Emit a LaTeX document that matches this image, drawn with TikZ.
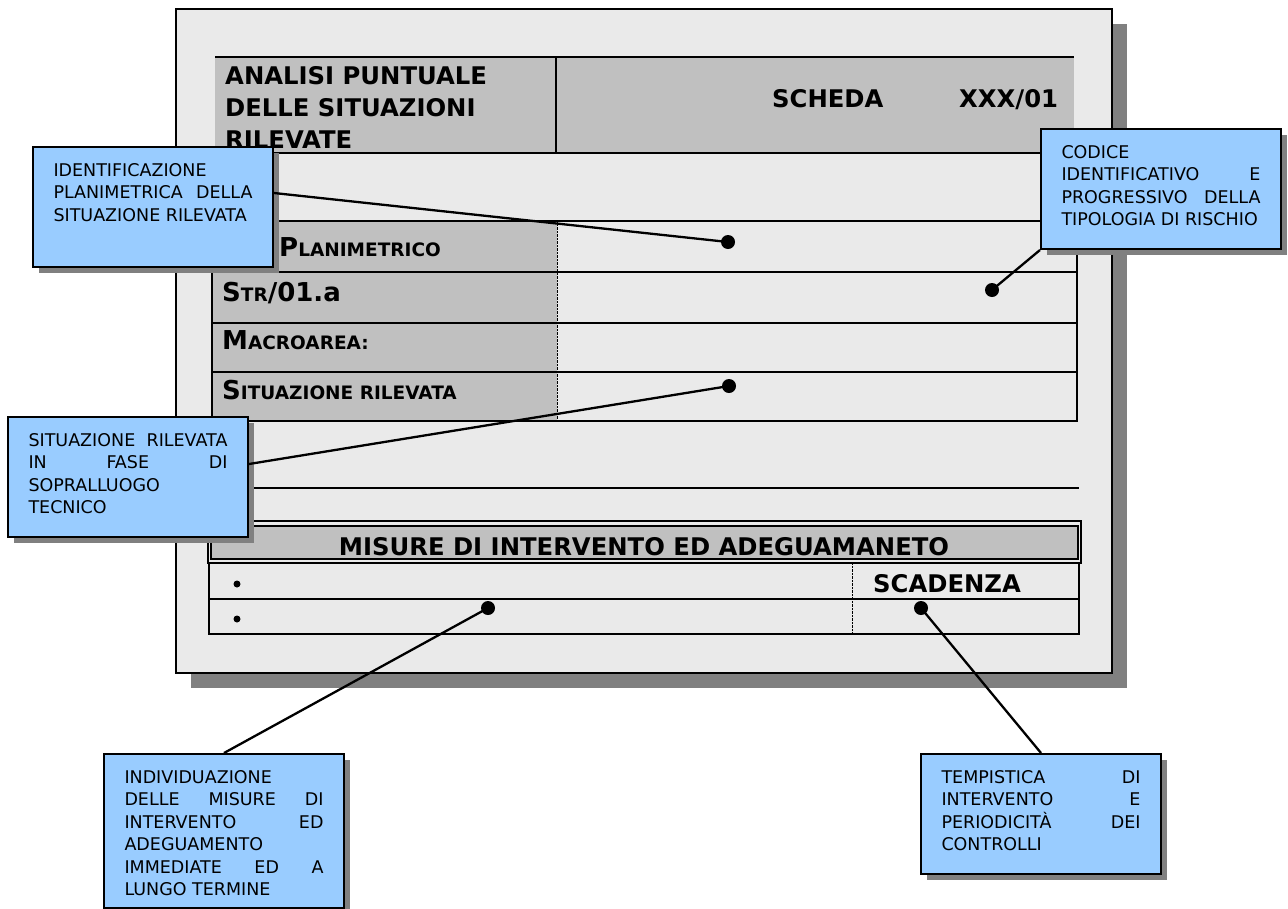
\documentclass[tikz,border=0pt]{standalone}
\usepackage{fontspec}
\setmainfont{DejaVu Sans}
\usetikzlibrary{positioning}

\definecolor{panel}{HTML}{EAEAEA}
\definecolor{cellgray}{HTML}{C0C0C0}
\definecolor{shadowgray}{HTML}{808080}
\definecolor{notefill}{HTML}{99CCFF}

\newcommand\headfont{\fontsize{24.3}{32}\selectfont\bfseries}
\newcommand\capsc[2]{{\fontsize{26}{26}\selectfont#1}{\fontsize{18.5}{18.5}\selectfont#2}}
\newcommand\notetext[2]{\parbox[c][#1][t]{199pt}{\rule{0pt}{29pt}#2}}

\tikzset{
  notebox/.style={draw=black, line width=2pt, fill=notefill, inner sep=0pt,
    minimum width=240pt, anchor=north west, font=\fontsize{17.5}{22.5}\selectfont,
    preaction={draw=none, fill=shadowgray, transform canvas={xshift=6pt, yshift=-6pt}}},
  head/.style={anchor=base west, inner sep=0pt, font=\headfont},
  rowlabel/.style={anchor=base west, inner sep=0pt, font=\bfseries},
  pin/.style={circle, fill=black, inner sep=0pt, minimum size=14pt},
  bullet/.style={circle, fill=black, inner sep=0pt, minimum size=7pt},
  rule/.style={line width=2.6pt},
  leader/.style={line width=2.3pt}
}

\begin{document}
\begin{tikzpicture}[x=1pt,y=-1pt]
\useasboundingbox (0,0) rectangle (1288,908);

% sheet
\fill[shadowgray] (191,24) rectangle (1127,688);
\draw[fill=panel, line width=2pt] (176,9) rectangle (1112,673);

% header
\fill[cellgray] (215,57) rectangle (1074,153);
\draw[rule] (215,57) -- (1074,57);
\draw[rule] (556,57) -- (556,153);
\foreach \t [count=\i] in {ANALISI PUNTUALE, DELLE SITUAZIONI, RILEVATE}
  \node[head] (title\i) at (225,52+32*\i) {\t};
\node[head] (scheda) at (772,107) {SCHEDA};
\node[head] (code) at (959,107) {XXX/01};

% rows
\fill[cellgray] (212,221) rectangle (557,421);
\draw[rule] (212,153) rectangle (1077,421);
\foreach \y in {221,272,323,372}
  \draw[rule] (212,\y) -- (1077,\y);
\draw[densely dotted, thin] (557,221) -- (557,421);
\node[rowlabel] (plan) at (279,256) {\capsc{P}{LANIMETRICO}};
\node[rowlabel] (str) at (222,301) {\capsc{S}{TR}{\fontsize{26}{26}\selectfont/01.a}};
\node[rowlabel] (macro) at (222,349) {\capsc{M}{ACROAREA:}};
\node[rowlabel] (sit) at (222,399) {\capsc{S}{ITUAZIONE RILEVATA}};
\draw[rule] (212,488) -- (1079,488);

% measures
\draw[line width=2pt] (208,521) rectangle (1081,563);
\draw[line width=2.8pt] (208,521) -- (1081,521);
\draw[fill=cellgray, line width=1.5pt] (211,526) rectangle (1078,559);
\node[head, anchor=base] (misure) at (644,555) {MISURE DI INTERVENTO ED ADEGUAMANETO};
\draw[line width=2pt] (209,563) rectangle (1079,634);
\draw[line width=2pt] (209,599) -- (1079,599);
\draw[densely dotted, thin] (852,563) -- (852,634);
\node[head] (scad) at (873,592) {SCADENZA};
\node[bullet] (bl1) at (237,584) {};
\node[bullet] (bl2) at (237,619) {};

% notes
\node[notebox] (nplan) at (32,146) {\notetext{120pt}{IDENTIFICAZIONE\\PLANIMETRICA\hfill DELLA\\SITUAZIONE RILEVATA}};
\node[notebox] (ncode) at (1040,128) {\notetext{120pt}{CODICE\\IDENTIFICATIVO\hfill E\\PROGRESSIVO\hfill DELLA\\TIPOLOGIA DI RISCHIO}};
\node[notebox] (nsit) at (7,416) {\notetext{120pt}{SITUAZIONE\hfill RILEVATA\\IN\hfill FASE\hfill DI\\SOPRALLUOGO\\TECNICO}};
\node[notebox] (nmis) at (103,753) {\notetext{154pt}{INDIVIDUAZIONE\\DELLE\hfill MISURE\hfill DI\\INTERVENTO\hfill ED\\ADEGUAMENTO\\IMMEDIATE\hfill ED\hfill A\\LUNGO TERMINE}};
\node[notebox] (ntime) at (920,753) {\notetext{120pt}{TEMPISTICA\hfill DI\\INTERVENTO\hfill E\\PERIODICITÀ\hfill DEI\\CONTROLLI}};

% pins and leaders
\node[pin] (p1) at (728,242) {};
\node[pin] (p2) at (992,290) {};
\node[pin] (p3) at (729,386) {};
\node[pin] (p4) at (488,608) {};
\node[pin] (p5) at (921,608) {};
\draw[leader] ([yshift=14pt]nplan.east) -- (p1.center);
\draw[leader] (ncode.south west) -- (p2.center);
\draw[leader] ([yshift=13pt]nsit.east) -- (p3.center);
\draw[leader] (nmis.north) -- (p4.center);
\draw[leader] (ntime.north) -- (p5.center);
\end{tikzpicture}
\end{document}
